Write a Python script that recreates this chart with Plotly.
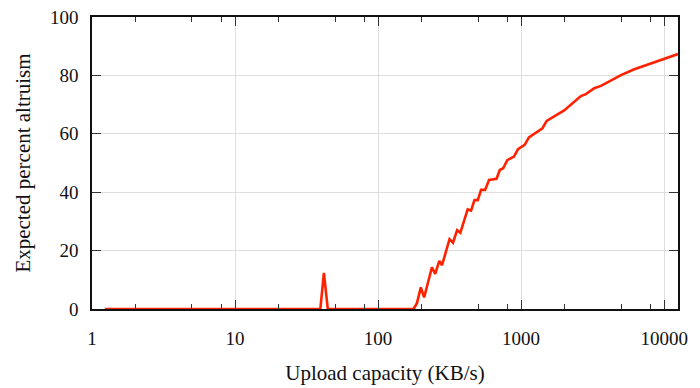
import plotly.graph_objects as go

# Upload capacity (KB/s)
capacity = [1.23, 5, 20, 39.5, 41.8, 44.5, 100, 177, 187, 199, 210, 238, 251, 268, 280,
            316, 334, 357, 376, 423, 447, 472, 498, 525, 560, 597, 673, 710, 750,
            800, 891, 951, 1059, 1135, 1410, 1510, 2000, 2617, 2837, 3247, 3616,
            4250, 4990, 6190, 8110, 10600, 12500]
# Expected percent altruism
altruism = [0, 0, 0, 0, 12.4, 0, 0, 0, 2, 7.4, 4, 14.3, 12, 16.5, 15,
            23.9, 22.7, 27, 26.1, 34.1, 33.7, 37.3, 37.3, 40.8, 40.8, 44.2, 44.6, 47.6, 48.2,
            51, 52.2, 54.7, 56.2, 58.8, 61.9, 64.4, 68.0, 72.9, 73.6, 75.6, 76.4,
            78.4, 80.1, 82.1, 84.1, 86.2, 87.3]

x_major = [1, 10, 100, 1000, 10000]
x_labels = ["1", "10", "100", "1000", "10000"]
x_minor = [m * 10 ** d for d in range(0, 5) for m in (2, 5, 8)]
y_ticks = [0, 20, 40, 60, 80, 100]

FAMILY = "Liberation Serif, Times New Roman, serif"
tick_font = dict(family=FAMILY, size=19, color="#111111")
title_font = dict(family=FAMILY, size=21, color="#111111")

fig = go.Figure()
fig.add_trace(go.Scatter(x=capacity, y=altruism, mode="lines",
                         line=dict(color="#ff2200", width=2.6), showlegend=False))

fig.update_layout(
    width=700, height=388,
    margin=dict(l=92, r=22, t=17, b=79),
    plot_bgcolor="white", paper_bgcolor="white",
    font=tick_font,
)
fig.update_xaxes(
    type="log", range=[0, 4.097], automargin=False,
    tickvals=x_major, ticktext=x_labels, tickfont=tick_font,
    ticks="inside", ticklen=9, tickwidth=1.3, tickcolor="#333333",
    showline=True, linecolor="#111111", linewidth=1.5, mirror="ticks",
    showgrid=True, gridcolor="#dedede", gridwidth=1,
    minor=dict(tickmode="array", tickvals=x_minor, ticks="inside", ticklen=5,
               tickwidth=1.2, tickcolor="#333333", showgrid=False),
    ticklabelstandoff=11,
    title=dict(text="Upload capacity (KB/s)", standoff=18, font=title_font),
    zeroline=False,
)
fig.update_yaxes(
    range=[0, 100], tickvals=y_ticks, automargin=False, tickfont=tick_font,
    ticks="inside", ticklen=9, tickwidth=1.3, tickcolor="#333333",
    showline=True, linecolor="#111111", linewidth=1.5, mirror="ticks",
    showgrid=True, gridcolor="#dedede", gridwidth=1,
    ticklabelstandoff=8,
    title=dict(text="Expected percent altruism", standoff=14, font=title_font),
    zeroline=False,
)

fig.write_html("out.html", config={"displayModeBar": False},
               post_script="document.body.style.margin='0';document.body.style.overflow='hidden';")
